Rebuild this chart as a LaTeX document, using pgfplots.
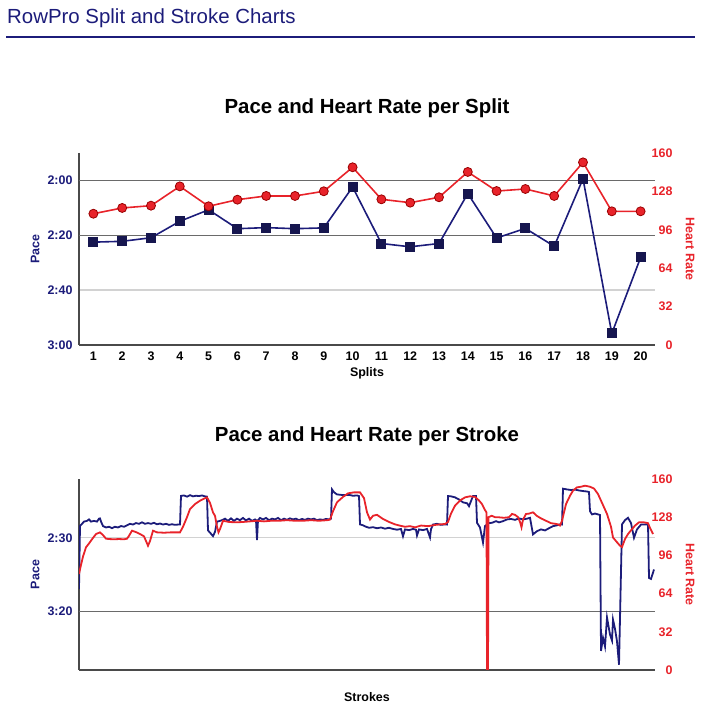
\documentclass[border=0pt]{standalone}
\usepackage{fontspec}
\setmainfont{Liberation Sans}
\usepackage{pgfplots}
\pgfplotsset{compat=1.18}
\usepackage{pgfplotstable}

\definecolor{navy}{HTML}{1C1C7A}
\definecolor{marknavy}{HTML}{16164F}
\definecolor{hrred}{HTML}{E8232A}
\definecolor{axisgray}{HTML}{4A4A4A}
\definecolor{darkgrid}{HTML}{6A6A6A}
\definecolor{lightgrid}{HTML}{D2D2D2}

% split chart: pace in seconds, heart rate in bpm
\pgfplotstableread{
split pace hr
1  142.5 109.4
2  142.2 114.2
3  140.9 116.1
4  134.9 132.2
5  130.7 115.6
6  137.6 121.1
7  137.2 124.2
8  137.6 124.2
9  137.3 128.1
10 122.4 148.1
11 143.0 121.4
12 144.2 118.6
13 143.0 123.1
14 124.8 144.2
15 141.0 128.3
16 137.5 130.0
17 144.0 124.2
18 119.4 152.2
19 175.8 111.4
20 148.1 111.4
}\splits

% stroke chart: pace in seconds
\pgfplotstableread{
s pace
0 185
1 142
3 140.5
5 139
8 138.5
10 137.5
12 139
15 138.5
18 139
20 137
21 136.8
22 139
24 142
27 143
30 142.5
33 143.5
36 142.5
39 143
42 142
45 142.5
48 141.5
51 140.5
54 141
57 140
60 140.5
63 139.5
66 140.5
69 140
72 140.5
75 139.8
78 140.8
81 140.3
84 141
87 140.5
90 141.2
93 140.8
96 141.2
99 141
101 141
102 121.5
105 121.2
108 122
111 121
114 121.8
117 121.4
120 121.6
123 121.2
126 121.8
128 122
129 145
131 146.5
134 148.9
136 146
138 139
140 138.7
143 138
146 137
149 138.5
152 136.8
155 138.5
158 137
161 138
164 136.5
167 138.2
170 137
173 138.5
176 137.5
177 138
178 151.6
179 138
181 136.5
184 137.5
187 136.5
190 138
193 137
196 137.5
199 136.5
202 138
205 137
208 137.8
211 136.8
214 137.5
217 137
220 138
223 137.2
226 137.8
229 137
232 137.5
235 137
238 138
241 137.5
244 137.8
247 137.2
250 137.5
252 137
253 117.1
255 119
258 120.5
262 120.8
266 121
270 120.8
274 121.4
278 121.2
280 121.6
281 140.9
284 141.5
287 142.5
290 143.2
294 142.8
298 143.5
302 143
306 143.8
310 143.2
314 144
318 144.5
322 144
324 149
326 144.3
330 144.8
334 144
337 144.5
338 148.4
340 144.3
344 144.8
348 144
351 149.8
352 144.2
354 141
358 140.5
362 141.2
366 140.9
368 141
369 121.6
372 121.8
376 122.5
380 123.9
384 125.9
388 126.5
390 128.5
392 125
394 121.6
397 121.6
398 139.8
401 143
404 153.2
406 142
410 140
413 139.8
417 138.7
420 139.5
424 138.7
428 137.5
432 137.2
436 137.8
440 136.8
444 137.5
448 137
451 136.4
454 147.7
458 145.5
462 144.3
466 145
470 143.5
474 142.1
478 141.5
481 140.9
483 141
484 116.6
488 117.1
492 117.5
496 117.2
500 117.8
504 118.2
508 118.5
510 118.9
511 131.9
513 134.1
516 133.5
519 134.1
521 134.5
522 227
524 218
526 224
528 204.3
531 215.9
533 220
534 205.7
536 212
538 220.5
540 236.4
543 140.9
546 138
549 136.4
552 140
555 150
558 144.3
562 141
566 140.9
569 141
570 177.3
572 178
575 171.6
}\strokepace

% stroke chart: heart rate in bpm
\pgfplotstableread{
s hr
0 80.4
2 88
4 95
7 102.8
10 106
13 109.5
17 113.9
21 115.3
24 113
27 110
30 109.7
35 109.5
40 109.7
45 109.5
48 110
50 112.4
53 116.7
57 115.5
61 113.9
65 112
69 104.1
71 108
74 116.7
78 115.3
85 115
92 115.3
101 115.3
104 120
108 128
111 134.8
116 139
121 141.8
125 143.5
128 144.6
131 140
134 132
136 129.2
138 120
139.5 115.3
141 118
144 125
150 124
157 123.7
164 124
171 124.5
178 125
185 124.5
192 125
200 125
208 125.5
216 125
224 125
232 125.5
240 125
248 125.5
251 126
254 133
258 140.5
264 145
269 148
275 148.8
281 148.8
285 144
288 132.1
291 126
294 129.2
298 130
304 126.5
310 124
316 122
321 120.9
326 120
331 120.5
336 119.5
342 121
349 120.5
356 121.5
361 122
366 122.3
369 124
372 131
376 137.6
381 142
386 144.6
391 145.5
396 145
400 142
403 139
406 134
407.5 132
408 0
409 0
409.5 128
412.7 129.2
416 128
420 127.9
425 127.5
430 128
433 130.7
436 130
439 128
441 124
442.5 119.5
444 126
447 130.7
450 131
454 132.1
458 129
462 127
467 125
472 123
476 122.5
479 122
481 121
483 125
487 139
491 146
494 150.2
498 153
502 153.5
506 154.4
511 153.5
515 152
519 147.4
523 140
528 130.7
532 120
534 111
538 107
541 104.1
543 103
546 109.7
549 113.9
552 117
556 121
560 123.7
565 123.7
569 123
571 119
574 113.9
}\strokehr

\pgfplotsset{
  rowbase/.style={
    scale only axis, width=576bp, anchor=south west,
    tick style={draw=none}, major tick length=0pt,
    tick label style={font=\fontsize{12.5}{14}\selectfont\bfseries},
    label style={font=\fontsize{12.5}{14}\selectfont\bfseries},
    /pgf/number format/assume math mode=true,
  },
  paceaxis/.style={
    rowbase,
    axis x line*=bottom, axis y line*=left,
    axis line style={draw=axisgray, line width=1.8bp},
    y dir=reverse,
    yticklabel style={text=navy, xshift=-3bp},
    ylabel style={text=navy, at={(axis description cs:-0.076,0.5)}, anchor=center},
    ylabel={Pace},
    ymajorgrids, major grid style={draw=lightgrid, line width=1.4bp},
    extra y tick labels={},
    extra y tick style={major grid style={draw=darkgrid, line width=0.8bp}},
  },
  hraxis/.style={
    rowbase,
    axis x line=none, axis y line*=right,
    axis line style={draw=none},
    ymin=0, ymax=160, ytick={0,32,...,160},
    yticklabel style={text=hrred, anchor=east, xshift=21bp},
    ylabel={Heart Rate},
    ylabel style={text=hrred, at={(axis description cs:1.061,0.5)}, anchor=center, rotate=180},
  },
}

\begin{document}
\begin{tikzpicture}
\useasboundingbox (0,0) rectangle (709bp,724bp);
\node[anchor=base west, text=navy, font=\fontsize{20.5}{24}\selectfont, inner sep=0pt]
  at (7bp,700bp) {RowPro Split and Stroke Charts};
\draw[navy, line width=2.5bp] (6bp,687bp) -- (695bp,687bp);

% split chart
\begin{axis}[paceaxis,
  at={(79bp,379bp)}, height=192bp,
  xmin=0.5, xmax=20.5, ymin=110, ymax=180,
  xtick={1,...,20},
  xticklabel style={yshift=-3bp},
  ytick={120,140,160,180}, yticklabels={2:00,2:20,2:40,3:00},
  extra y ticks={120,140},
  xlabel={Splits},
  xlabel style={at={(axis description cs:0.5,-0.146)}, anchor=center},
  title={Pace and Heart Rate per Split},
  title style={at={(axis description cs:0.5,1)}, anchor=base, yshift=34bp,
    font=\fontsize{20.5}{24}\selectfont\bfseries},
]
\addplot[navy, line width=1.6bp, mark=square*,
  mark size=4.2bp, mark options={fill=marknavy, draw=marknavy}]
  table[x=split, y=pace] {\splits};
\end{axis}
\begin{axis}[hraxis,
  at={(79bp,379bp)}, height=192bp,
  xmin=0.5, xmax=20.5,
]
\addplot[hrred, line width=1.6bp, mark=*,
  mark size=4.5bp, mark options={fill=hrred, draw=red!60!black, line width=0.8bp}]
  table[x=split, y=hr] {\splits};
\end{axis}

% stroke chart
\begin{axis}[paceaxis,
  at={(79bp,54bp)}, height=191bp,
  xmin=0, xmax=576, ymin=110, ymax=240,
  xtick=\empty,
  ytick={150,200}, yticklabels={2:30,3:20},
  extra y ticks={200},
  xlabel={Strokes},
  xlabel style={at={(axis description cs:0.5,-0.141)}, anchor=center},
  title={Pace and Heart Rate per Stroke},
  title style={at={(axis description cs:0.5,1)}, anchor=base, yshift=32bp,
    font=\fontsize{20.5}{24}\selectfont\bfseries},
]
\addplot[navy, line width=1.8bp] table[x=s, y=pace] {\strokepace};
\end{axis}
\begin{axis}[hraxis,
  at={(79bp,54bp)}, height=191bp,
  xmin=0, xmax=576,
]
\addplot[hrred, line width=1.8bp] table[x=s, y=hr] {\strokehr};
\end{axis}
\end{tikzpicture}
\end{document}
